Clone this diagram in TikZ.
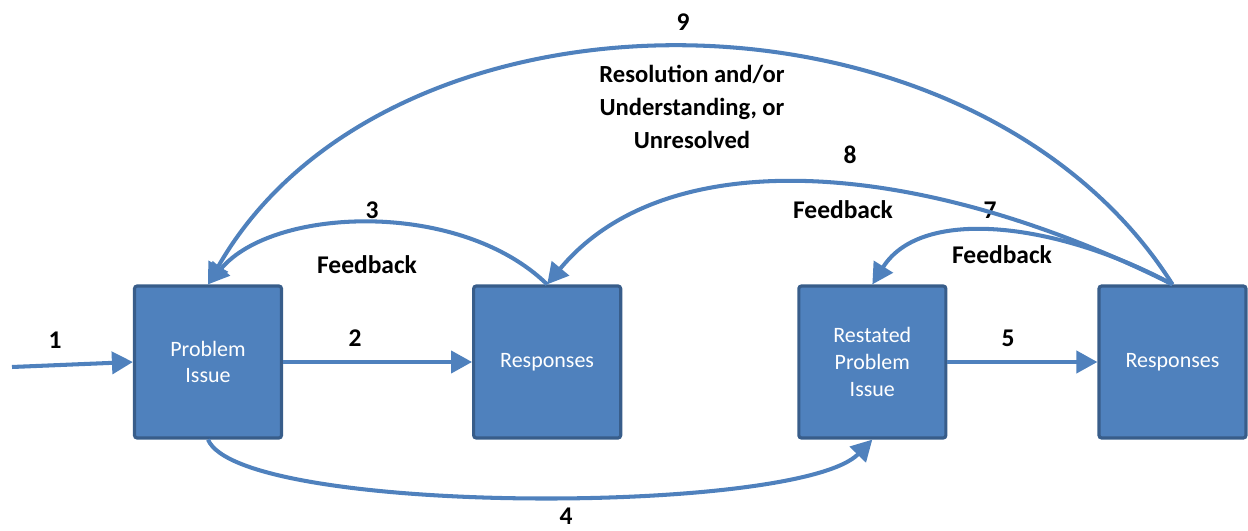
\documentclass[tikz,border=0pt]{standalone}
\usepackage{fontspec}
\setmainfont{Carlito}
\usetikzlibrary{arrows.meta, positioning}
\definecolor{boxfill}{HTML}{4F81BD}
\definecolor{boxline}{HTML}{385D8A}

\begin{document}
\begin{tikzpicture}[
    bluebox/.style={rectangle, text=white, draw=boxline, fill=boxfill, line width=1.8pt, rounded corners=1.5pt, minimum width=2.94cm, minimum height=3.04cm, align=center, font=\fontsize{12.5}{15.3}\selectfont},
    flowarrow/.style={draw=boxfill, line width=2.3pt, -{Triangle[length=4.2mm, width=4.4mm]}},
    numlabel/.style={font=\fontsize{14.5}{16}\selectfont\bfseries},
    textlabel/.style={font=\fontsize{14}{18.7}\selectfont\bfseries, align=center},
    ]
    \useasboundingbox (0,0) rectangle (24.96,10.62);
    %Nodes
    \node[bluebox]      (problem)                          at (4.16,3.38) {Problem\\Issue};
    \node[bluebox]      (responses)   [right=3.78cm of problem]   {Responses};
    \node[bluebox]      (restated)    [right=3.5cm of responses]  {Restated\\Problem\\Issue};
    \node[bluebox]      (responsestwo) [right=3cm of restated]    {Responses};
    \coordinate         (start)                            at (0.24,3.28);

    %Labels
    \node[numlabel]  (one)    at (1.1,3.82)   {1};
    \node[numlabel]  (two)    at (7.1,3.86)   {2};
    \node[numlabel]  (three)  at (7.44,6.42)  {3};
    \node[numlabel]  (four)   at (11.32,0.3)  {4};
    \node[numlabel]  (five)   at (20.16,3.86) {5};
    \node[numlabel]  (seven)  at (19.8,6.42)  {7};
    \node[numlabel]  (eight)  at (17.0,7.52)  {8};
    \node[numlabel]  (nine)   at (13.66,10.18) {9};
    \node[numlabel]  (fbthree) at (7.34,5.32)  {Feedback};
    \node[numlabel]  (fbeight) at (16.86,6.42) {Feedback};
    \node[numlabel]  (fbseven) at (20.04,5.52) {Feedback};
    \node[textlabel] (outcome) at (13.84,8.48) {Resolution and/or\\Understanding, or\\Unresolved};

    %Lines
    \draw[flowarrow] (start) -- (problem.west);
    \draw[flowarrow] (problem.east) -- (responses.west);
    \draw[flowarrow] (restated.east) -- (responsestwo.west);
    \draw[flowarrow] (responses.north) .. controls +(-1.74,1.7) and +(1.3,1.56) .. (problem.north);
    \draw[flowarrow] (problem.south) .. controls +(0.64,-1.52) and +(-1.48,-1.52) .. (restated.south);
    \draw[flowarrow] (responsestwo.north) .. controls +(-2.2,1.2) and +(1.0,1.6) .. (restated.north);
    \draw[flowarrow] (responsestwo.north) .. controls +(-5.0,2.5) and +(2.4,2.9) .. (responses.north);
    \draw[flowarrow] (responsestwo.north) .. controls +(-4.0,6.32) and +(3.6,6.32) .. (problem.north);
  \end{tikzpicture}
\end{document}
